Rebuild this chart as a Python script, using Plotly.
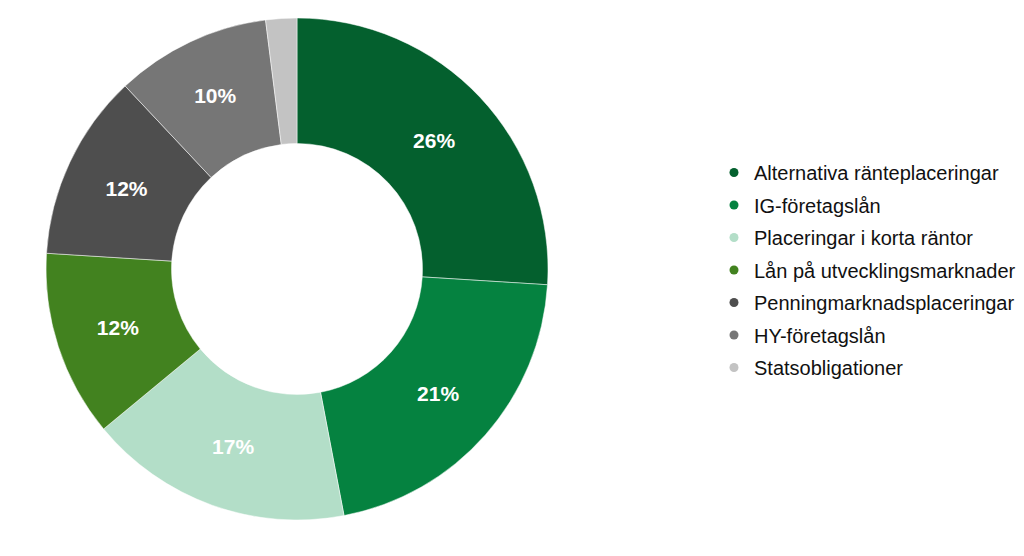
import plotly.graph_objects as go

categories = [
    "Alternativa ränteplaceringar",
    "IG-företagslån",
    "Placeringar i korta räntor",
    "Lån på utvecklingsmarknader",
    "Penningmarknadsplaceringar",
    "HY-företagslån",
    "Statsobligationer",
]
values = [26, 21, 17, 12, 12, 10, 2]
colors = ["#04602E", "#058240", "#B3DEC8", "#42821F", "#4E4E4E", "#767676", "#C3C3C3"]

labels_text = [f"{v}%" if v >= 5 else "" for v in values]

W, H = 1016, 548

fig = go.Figure()
fig.add_trace(go.Pie(
    labels=categories,
    values=values,
    text=labels_text,
    textinfo="text",
    textposition="inside",
    insidetextorientation="horizontal",
    textfont=dict(family="Liberation Sans, Arial", size=21, color="white", weight="bold"),
    marker=dict(colors=colors, line=dict(color="white", width=0.5)),
    hole=0.5,
    sort=False,
    direction="clockwise",
    rotation=0,
    showlegend=False,
    hoverinfo="skip",
    domain=dict(x=[0, 578 / W], y=[(H - 512) / H, (H - 10) / H]),
))

for i, (c, col) in enumerate(zip(categories, colors)):
    fig.add_trace(go.Scatter(
        x=[None], y=[None], mode="markers", name=c,
        marker=dict(symbol="circle", size=9, color=col),
        legendgroup=f"g{i}", showlegend=True, hoverinfo="skip",
    ))

fig.update_layout(
    width=W, height=H,
    margin=dict(l=0, r=0, t=0, b=0),
    paper_bgcolor="white", plot_bgcolor="white",
    xaxis=dict(visible=False), yaxis=dict(visible=False),
    legend=dict(
        x=706 / W, xanchor="left",
        y=1 - 262 / H, yanchor="middle",
        font=dict(family="Liberation Sans, Arial", size=20, color="#111111"),
        tracegroupgap=3.5,
        itemwidth=30,
        bgcolor="rgba(0,0,0,0)",
    ),
)

fig.write_html("out.html")
